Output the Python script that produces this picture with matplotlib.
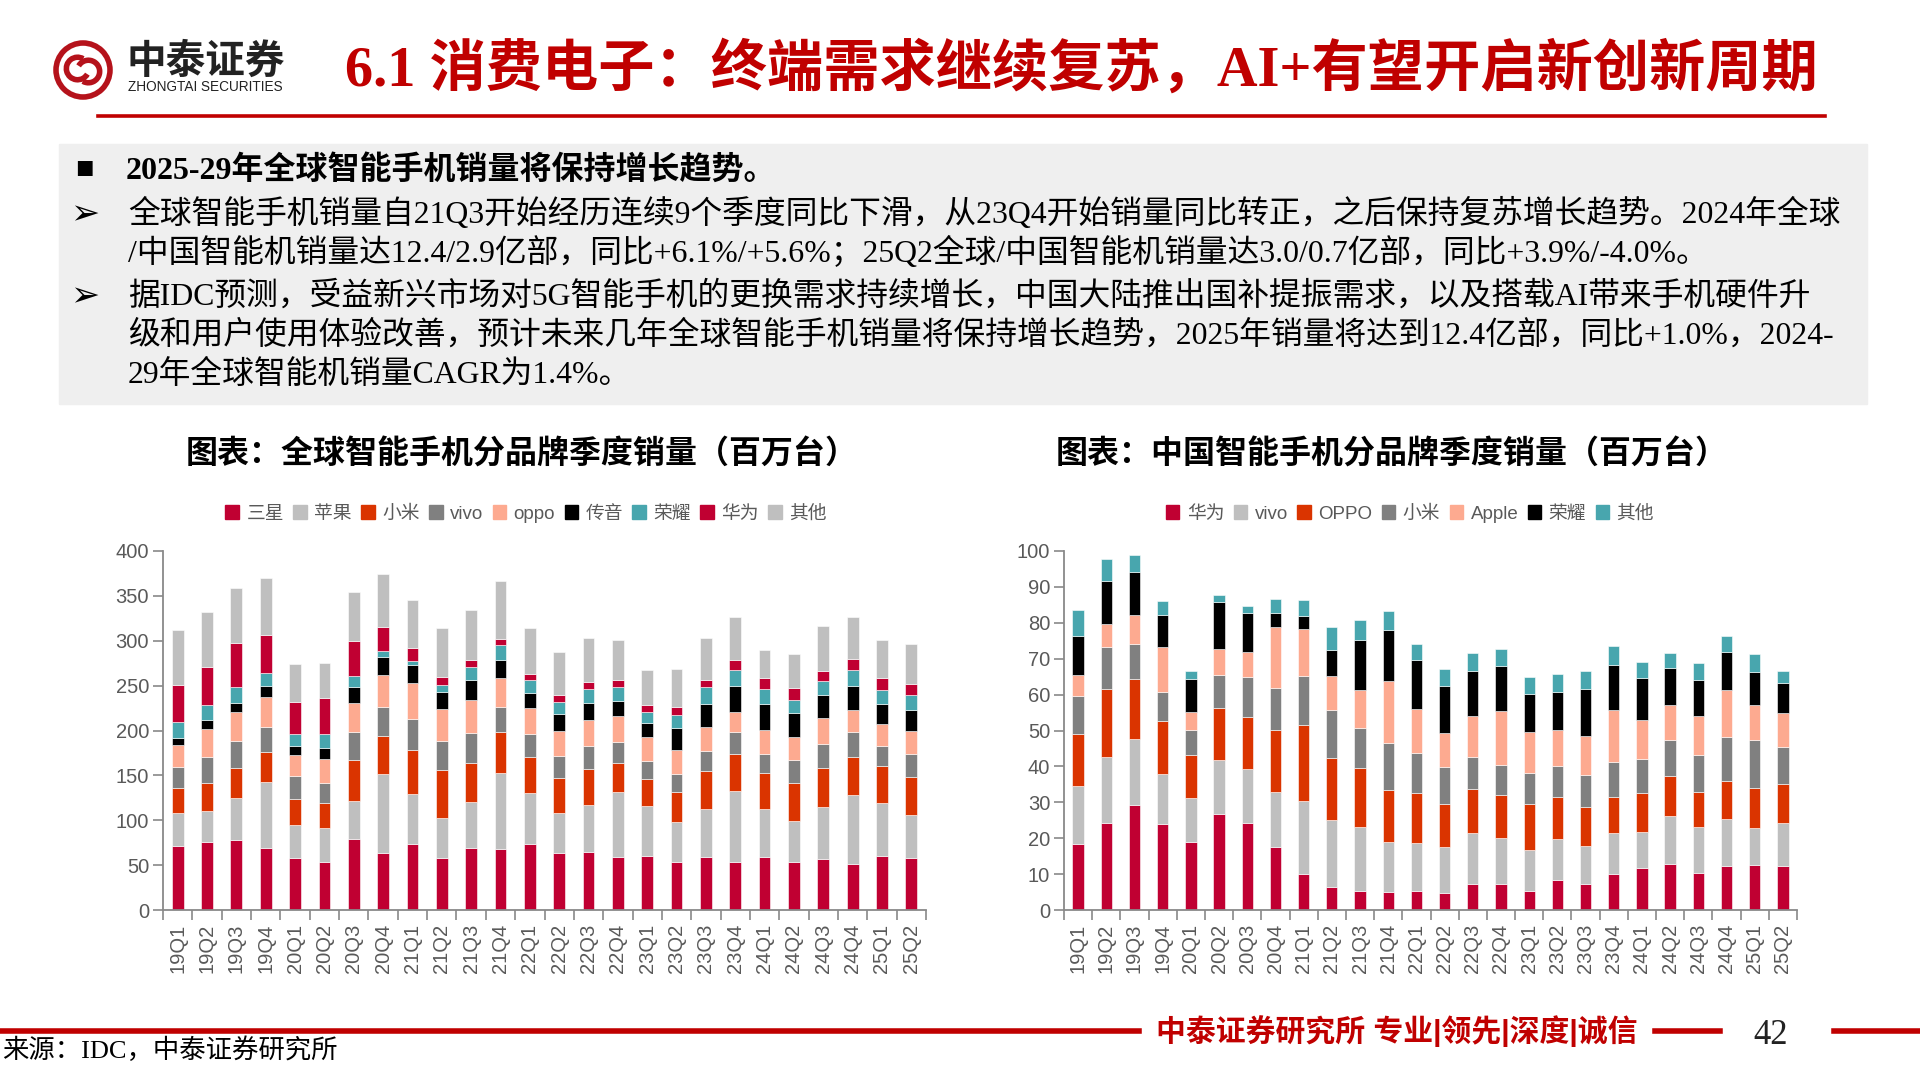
import numpy as np
import matplotlib
matplotlib.use("Agg")
import matplotlib.pyplot as plt
from matplotlib.patches import Patch, Rectangle, Circle, Arc

W, H = 1920, 1080

quarters = ["19Q1", "19Q2", "19Q3", "19Q4", "20Q1", "20Q2", "20Q3", "20Q4",
            "21Q1", "21Q2", "21Q3", "21Q4", "22Q1", "22Q2", "22Q3", "22Q4",
            "23Q1", "23Q2", "23Q3", "23Q4", "24Q1", "24Q2", "24Q3", "24Q4",
            "25Q1", "25Q2"]

# global shipments by brand (million units), stacked bottom -> top
samsung_g = [71, 76, 78, 69, 58, 53, 79, 63, 74, 58, 69, 68, 74, 63, 65, 59, 60, 53, 59, 53, 59, 53, 57, 51, 60, 58]
apple_g = [37, 34, 47, 74, 37, 38, 42, 88, 55, 45, 51, 85, 56, 45, 52, 72, 56, 45, 54, 80, 53, 46, 58, 77, 59, 48]
xiaomi_g = [28, 32, 33, 33, 29, 28, 46, 43, 49, 53, 44, 45, 40, 39, 40, 33, 30, 33, 42, 41, 41, 42, 43, 43, 42, 42]
vivo_g = [23, 28, 30, 28, 25, 23, 31, 32, 35, 32, 33, 28, 26, 25, 26, 23, 20, 21, 22, 24, 21, 26, 27, 27, 22, 26]
oppo_g = [25, 32, 33, 33, 24, 26, 33, 36, 40, 36, 37, 33, 29, 27, 29, 29, 27, 26, 27, 23, 26, 26, 29, 25, 24, 25]
transsion_g = [8, 10, 10, 13, 10, 12, 17, 20, 20, 19, 22, 20, 17, 19, 19, 17, 15, 25, 26, 29, 29, 26, 26, 27, 22, 24]
honor_g = [17, 16, 18, 14, 13, 16, 13, 7, 4, 8, 15, 16, 14, 14, 15, 15, 13, 14, 18, 17, 17, 15, 15, 17, 16, 17]
huawei_g = [42, 43, 49, 42, 36, 40, 39, 26, 15, 9, 7, 7, 7, 7, 8, 8, 7, 9, 8, 11, 12, 13, 11, 13, 13, 12]
others_g = [61, 61, 61, 64, 42, 39, 54, 59, 53, 54, 56, 65, 51, 48, 49, 45, 39, 42, 47, 49, 32, 38, 50, 47, 43, 44]

# China shipments by brand (million units)
huawei_c = [18.5, 24.3, 29.3, 23.9, 18.9, 26.7, 24.2, 17.5, 9.9, 6.4, 5.3, 4.9, 5.2, 4.7, 7.2, 7.2, 5.4, 8.3, 7.2, 9.9, 11.6, 12.8, 10.3, 12.2, 12.5, 12.2]
vivo_c = [16.0, 18.3, 18.2, 14.1, 12.2, 15.0, 15.1, 15.4, 20.5, 18.6, 17.9, 14.0, 13.4, 12.9, 14.3, 12.8, 11.4, 11.5, 10.6, 11.6, 10.1, 13.3, 12.9, 13.2, 10.3, 12.1]
oppo_c = [14.5, 18.9, 16.9, 14.7, 12.0, 14.6, 14.5, 17.1, 21.2, 17.4, 16.4, 14.5, 14.1, 11.8, 12.2, 12.0, 12.8, 11.6, 10.9, 10.0, 10.9, 11.3, 9.7, 10.6, 11.2, 10.7]
xiaomi_c = [10.6, 11.7, 9.6, 8.0, 7.0, 9.1, 11.0, 11.8, 13.5, 13.4, 11.0, 13.1, 11.0, 10.4, 9.0, 8.4, 8.5, 8.6, 9.0, 9.6, 9.4, 10.0, 10.2, 12.1, 13.4, 10.4]
apple_c = [5.8, 6.6, 8.2, 12.5, 5.1, 7.4, 7.1, 16.9, 13.2, 9.5, 10.6, 17.3, 12.4, 9.6, 11.3, 15.1, 11.6, 10.1, 10.8, 14.7, 10.9, 9.7, 10.9, 13.3, 9.7, 9.6]
honor_c = [10.9, 11.8, 12.0, 9.0, 9.2, 13.0, 10.7, 4.0, 3.5, 7.0, 14.0, 14.1, 13.5, 13.0, 12.7, 12.4, 10.5, 10.7, 13.0, 12.4, 11.8, 10.3, 10.0, 10.4, 9.1, 8.2]
others_c = [7.2, 6.3, 4.7, 4.0, 2.1, 2.0, 2.1, 3.8, 4.5, 6.4, 5.5, 5.5, 4.5, 4.7, 4.8, 4.8, 4.8, 4.9, 5.1, 5.2, 4.5, 4.3, 4.7, 4.5, 5.0, 3.5]

labels_g = ["三星", "苹果", "小米", "vivo", "oppo", "传音", "荣耀", "华为", "其他"]
labels_c = ["华为", "vivo", "OPPO", "小米", "Apple", "荣耀", "其他"]

CRIMSON = "#C00032"
LGRAY = "#BFBFBF"
ORANGE = "#DA3400"
DGRAY = "#808080"
SALMON = "#FDAA90"
BLACK = "#000000"
TEAL = "#48A6AE"
RED = "#C00000"

colors_g = [CRIMSON, LGRAY, ORANGE, DGRAY, SALMON, BLACK, TEAL, CRIMSON, LGRAY]
colors_c = [CRIMSON, LGRAY, ORANGE, DGRAY, SALMON, BLACK, TEAL]

SANS = ["Liberation Sans", "Noto Sans CJK SC"]
SERIF = ["Liberation Serif", "Noto Sans CJK SC"]
plt.rcParams["font.family"] = SANS


def px(x, y):
    return x / W, 1 - y / H


def axrect(x0, y0, x1, y1):
    return [x0 / W, 1 - y1 / H, (x1 - x0) / W, (y1 - y0) / H]


fig = plt.figure(figsize=(19.2, 10.8), dpi=100)

# ---- header: logo + title ----
lax = fig.add_axes(axrect(53, 40, 113, 100))
lax.set_xlim(-1, 1)
lax.set_ylim(-1, 1)
lax.set_aspect("equal")
lax.axis("off")
lax.add_patch(Circle((0, 0), 0.9, fill=False, ec="#B5121B", lw=4))
lax.add_patch(Arc((-0.18, 0.05), 0.75, 0.75, theta1=60, theta2=330, ec="#B5121B", lw=4))
lax.add_patch(Arc((0.18, -0.05), 0.75, 0.75, theta1=240, theta2=150, ec="#B5121B", lw=4))

fig.text(*px(126, 62), "中泰证券", fontsize=28.5, fontweight="bold", family=SANS,
         color="#222222", va="center", ha="left")
fig.text(*px(128, 87), "ZHONGTAI SECURITIES", fontsize=9.8, family=SANS,
         color="#222222", va="center", ha="left")

fig.text(*px(345, 70), "6.1 消费电子：终端需求继续复苏，AI+有望开启新创新周期",
         fontsize=40.5, fontweight="bold", family=SERIF, color=RED,
         va="center", ha="left")
fig.add_artist(plt.Line2D([98 / W, 1825 / W], [1 - 116 / H] * 2, color=RED, lw=2.6))

# ---- grey text box ----
fig.add_artist(Rectangle(px(59, 404), (1867 - 59) / W, (404 - 144) / H,
                         transform=fig.transFigure, color="#EFEFEF", zorder=0))
fig.text(*px(84, 170), "■", fontsize=22, color="black", va="center", ha="center")
fig.text(*px(126, 170), "2025-29年全球智能手机销量将保持增长趋势。", fontsize=23,
         fontweight="bold", family=SERIF, va="center", ha="left")
body = [
    (214, True, "全球智能手机销量自21Q3开始经历连续9个季度同比下滑，从23Q4开始销量同比转正，之后保持复苏增长趋势。2024年全球"),
    (253, False, "/中国智能机销量达12.4/2.9亿部，同比+6.1%/+5.6%；25Q2全球/中国智能机销量达3.0/0.7亿部，同比+3.9%/-4.0%。"),
    (296, True, "据IDC预测，受益新兴市场对5G智能手机的更换需求持续增长，中国大陆推出国补提振需求，以及搭载AI带来手机硬件升"),
    (335, False, "级和用户使用体验改善，预计未来几年全球智能手机销量将保持增长趋势，2025年销量将达到12.4亿部，同比+1.0%，2024-"),
    (375, False, "29年全球智能机销量CAGR为1.4%。"),
]
for y, bullet, line in body:
    if bullet:
        fig.text(*px(85, y), "➢", fontsize=25, family=["DejaVu Sans"], va="center", ha="center")
    fig.text(*px(128, y), line, fontsize=22.9, family=SERIF, va="center", ha="left")

# ---- chart titles ----
fig.text(*px(522, 455), "图表：全球智能手机分品牌季度销量（百万台）", fontsize=23,
         fontweight="bold", family=SANS, va="center", ha="center")
fig.text(*px(1392, 455), "图表：中国智能手机分品牌季度销量（百万台）", fontsize=23,
         fontweight="bold", family=SANS, va="center", ha="center")


def stacked(ax, series, colors, ymax, ystep):
    x = np.arange(len(quarters))
    bottom = np.zeros(len(quarters))
    for vals, c in zip(series, colors):
        vals = np.array(vals, dtype=float)
        ax.bar(x, vals, 0.4, bottom=bottom, color=c, edgecolor="white", linewidth=0.4)
        bottom += vals
    ax.set_xlim(-0.5, len(quarters) - 0.5)
    ax.set_ylim(0, ymax)
    ax.set_yticks(np.arange(0, ymax + 1, ystep))
    ax.set_xticks(np.arange(-0.5, len(quarters), 1.0))
    ax.set_xticklabels([])
    ax.set_xticks(x, minor=True)
    ax.set_xticklabels(quarters, minor=True, rotation=90)
    ax.tick_params(axis="x", which="minor", length=0, pad=10, labelsize=14.5, labelcolor="#595959")
    ax.tick_params(axis="x", which="major", length=7, width=1.2, color="#898989")
    ax.tick_params(axis="y", length=7, width=1.2, color="#898989", labelsize=14.5,
                   labelcolor="#595959", pad=3)
    for s in ["top", "right"]:
        ax.spines[s].set_visible(False)
    for s in ["left", "bottom"]:
        ax.spines[s].set_color("#898989")
        ax.spines[s].set_linewidth(1.3)


ax1 = fig.add_axes(axrect(163, 551, 926, 910))
stacked(ax1, [samsung_g, apple_g, xiaomi_g, vivo_g, oppo_g, transsion_g,
              honor_g, huawei_g, others_g], colors_g, 400, 50)

ax2 = fig.add_axes(axrect(1064, 551, 1797, 910))
stacked(ax2, [huawei_c, vivo_c, oppo_c, xiaomi_c, apple_c, honor_c, others_c],
        colors_c, 100, 10)

leg_kw = dict(loc="center", frameon=False, handlelength=0.72, handleheight=0.72,
              handletextpad=0.4, columnspacing=0.5,
              labelcolor="#595959", prop={"family": SANS, "size": 13.5})
fig.legend([Patch(color=c) for c in colors_g], labels_g, ncol=len(labels_g),
           bbox_to_anchor=px(526, 514), **leg_kw)
fig.legend([Patch(color=c) for c in colors_c], labels_c, ncol=len(labels_c),
           bbox_to_anchor=px(1410, 514), **leg_kw)

# ---- footer ----
fig.add_artist(plt.Line2D([0, 1139 / W], [1 - 1031 / H] * 2, color=RED, lw=4))
fig.add_artist(plt.Line2D([1655 / W, 1720 / W], [1 - 1031 / H] * 2, color=RED, lw=4))
fig.add_artist(plt.Line2D([1834 / W, 1], [1 - 1031 / H] * 2, color=RED, lw=4))
fig.text(*px(1397, 1031), "中泰证券研究所 专业|领先|深度|诚信", fontsize=21.5,
         fontweight="bold", family=SANS, color=RED, va="center", ha="center")
fig.text(*px(1771, 1035), "42", fontsize=25, family=SERIF, color="#222222",
         va="center", ha="center")
fig.text(*px(2, 1050), "来源：IDC，中泰证券研究所", fontsize=19, family=SERIF,
         color="black", va="center", ha="left")

fig.savefig("out.png", dpi=100)
